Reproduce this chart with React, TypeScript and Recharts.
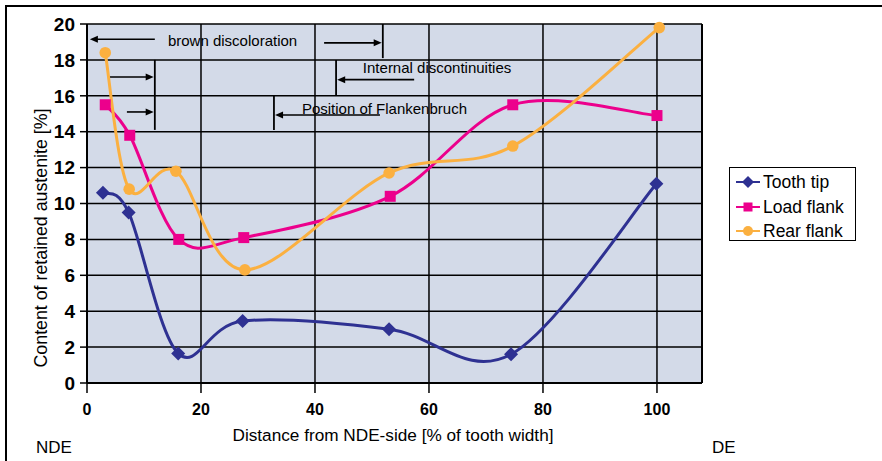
import React from 'react';
import { LineChart, Line, XAxis, YAxis, CartesianGrid, ReferenceLine, ReferenceDot } from 'recharts';

// ---- data ----
const toothTipX = [2.8, 7.3, 16.0, 27.3, 53.0, 74.4, 99.9];
const toothTipY = [10.6, 9.5, 1.65, 3.45, 3.0, 1.6, 11.1];
const loadFlankX = [3.2, 7.5, 16.1, 27.5, 53.2, 74.7, 100.0];
const loadFlankY = [15.5, 13.8, 8.0, 8.1, 10.4, 15.5, 14.9];
const rearFlankX = [3.2, 7.4, 15.6, 27.7, 53.0, 74.7, 100.4];
const rearFlankY = [18.4, 10.8, 11.8, 6.3, 11.7, 13.2, 19.8];

const xTicks = [0, 20, 40, 60, 80, 100];
const yTicks = [0, 2, 4, 6, 8, 10, 12, 14, 16, 18, 20];
const X_MAX = 107.9;

// annotation arrows (head at the second point) and bars, in data units
const arrowSegments = [
  { x1: 11.9, y1: 19.15, x2: 0.5, y2: 19.15 },
  { x1: 41.6, y1: 18.95, x2: 51.7, y2: 18.95 },
  { x1: 4.0, y1: 17.05, x2: 11.7, y2: 17.05 },
  { x1: 7.0, y1: 15.1, x2: 11.7, y2: 15.1 },
  { x1: 57.4, y1: 16.9, x2: 43.9, y2: 16.9 },
  { x1: 51.4, y1: 14.93, x2: 33.0, y2: 14.93 },
];
const barSegments = [
  { x: 51.9, y1: 20, y2: 18.1 },
  { x: 11.9, y1: 18.0, y2: 14.1 },
  { x: 43.7, y1: 18.0, y2: 16.05 },
  { x: 32.8, y1: 16.0, y2: 14.1 },
];
const annotationLabels = [
  { x: 14.2, y: 19.1, text: 'brown discoloration' },
  { x: 48.4, y: 17.55, text: 'Internal discontinuities' },
  { x: 37.7, y: 15.3, text: 'Position of Flankenbruch' },
];

const seriesNames = ['Tooth tip', 'Load flank', 'Rear flank'];
const NAVY = '#2E3192';
const MAGENTA = '#EC008C';
const ORANGE = '#FBB040';

const zip = (xs: number[], ys: number[]) => xs.map((x, i) => ({ x, y: ys[i] }));
const toothTip = zip(toothTipX, toothTipY);
const loadFlank = zip(loadFlankX, loadFlankY);
const rearFlank = zip(rearFlankX, rearFlankY);

// Excel-like smoothed curve (Catmull-Rom as cubic Bezier)
const smoothCurve: any = (context: any) => {
  let pts: number[][] = [];
  return {
    areaStart() {},
    areaEnd() {},
    lineStart() {
      pts = [];
    },
    point(x: number, y: number) {
      pts.push([+x, +y]);
    },
    lineEnd() {
      if (!pts.length) return;
      context.moveTo(pts[0][0], pts[0][1]);
      for (let i = 0; i < pts.length - 1; i++) {
        const p0 = pts[i - 1] || pts[i];
        const p1 = pts[i];
        const p2 = pts[i + 1];
        const p3 = pts[i + 2] || p2;
        const c1x = p1[0] + (p2[0] - p0[0]) / 6;
        const c1y = p1[1] + (p2[1] - p0[1]) / 6;
        const c2x = p2[0] - (p3[0] - p1[0]) / 6;
        const c2y = p2[1] - (p3[1] - p1[1]) / 6;
        context.bezierCurveTo(c1x, c1y, c2x, c2y, p2[0], p2[1]);
      }
    },
  };
};

const Diamond = ({ cx, cy, s = 7, color }: any) => (
  <polygon points={`${cx},${cy - s} ${cx + s},${cy} ${cx},${cy + s} ${cx - s},${cy}`} fill={color} />
);
const Square = ({ cx, cy, s = 5.5, color }: any) => (
  <rect x={cx - s} y={cy - s} width={2 * s} height={2 * s} fill={color} />
);
const Circle = ({ cx, cy, r = 5.8, color }: any) => <circle cx={cx} cy={cy} r={r} fill={color} />;

const ArrowShape = (p: any) => {
  const { x1, y1, x2, y2 } = p;
  const dir = x2 > x1 ? 1 : -1;
  const hl = 8;
  const hw = 3.5;
  return (
    <g>
      <line x1={x1} y1={y1} x2={x2 - dir * hl + dir} y2={y2} stroke="#000" strokeWidth={1.6} />
      <polygon points={`${x2},${y2} ${x2 - dir * hl},${y2 - hw} ${x2 - dir * hl},${y2 + hw}`} fill="#000" />
    </g>
  );
};

const BarShape = (p: any) => <line x1={p.x1} y1={p.y1} x2={p.x2} y2={p.y2} stroke="#000" strokeWidth={1.8} />;

const labelFont = 'Liberation Sans, Arial, Helvetica, sans-serif';

const LegendBox = () => {
  const items = [
    { name: seriesNames[0], color: NAVY, kind: 'diamond' },
    { name: seriesNames[1], color: MAGENTA, kind: 'square' },
    { name: seriesNames[2], color: ORANGE, kind: 'circle' },
  ];
  return (
    <div
      style={{
        position: 'absolute',
        left: 729,
        top: 167,
        width: 125,
        height: 72,
        border: '1.5px solid #000',
        background: '#fff',
        fontFamily: labelFont,
        fontSize: 17.5,
        color: '#000',
      }}
    >
      {items.map((it, i) => (
        <div key={it.name} style={{ position: 'absolute', left: 0, top: 2 + i * 24.5, height: 24, width: 125 }}>
          <svg width={32} height={24} style={{ position: 'absolute', left: 4, top: 0 }}>
            <line x1={2} y1={12} x2={26} y2={12} stroke={it.color} strokeWidth={2} />
            {it.kind === 'diamond' && <Diamond cx={14} cy={12} s={6} color={it.color} />}
            {it.kind === 'square' && <Square cx={14} cy={12} s={4.5} color={it.color} />}
            {it.kind === 'circle' && <Circle cx={14} cy={12} r={5} color={it.color} />}
          </svg>
          <span style={{ position: 'absolute', left: 33, top: 1, lineHeight: '22px', whiteSpace: 'nowrap' }}>{it.name}</span>
        </div>
      ))}
    </div>
  );
};

const XTitle = (props: any) => {
  const vb = props.viewBox || { x: 87, y: 383, width: 615 };
  return (
    <g fontFamily={labelFont} fill="#000">
      <text x={393} y={vb.y + 58} textAnchor="middle" fontSize={17.2}>
        Distance from NDE-side [% of tooth width]
      </text>
      <text x={36} y={vb.y + 70} fontSize={17}>
        NDE
      </text>
      <text x={712} y={vb.y + 70} fontSize={17}>
        DE
      </text>
    </g>
  );
};

const YTitle = () => (
  <text
    x={0}
    y={0}
    transform="translate(47,238) rotate(-90)"
    textAnchor="middle"
    fontFamily={labelFont}
    fontSize={17.8}
    fill="#000"
  >
    Content of retained austenite [%]
  </text>
);

export default function App() {
  return (
    <div style={{ position: 'absolute', left: 0, top: 0, width: 882, height: 461, background: '#fff', overflow: 'hidden' }}>
      <div
        style={{
          position: 'absolute',
          left: 5,
          top: 5,
          width: 900,
          height: 500,
          borderTop: '2px solid #000',
          borderLeft: '2px solid #000',
        }}
      />
      <LineChart
        width={882}
        height={461}
        margin={{ top: 24, right: 180, bottom: 0, left: 0 }}
        style={{ position: 'absolute', left: 0, top: 0 }}
      >
        <CartesianGrid stroke="#000" strokeWidth={1.5} fill="#D3DAE8" fillOpacity={1} />
        <XAxis
          type="number"
          dataKey="x"
          domain={[0, X_MAX]}
          ticks={xTicks}
          allowDataOverflow
          height={78}
          tickSize={10}
          tickMargin={11}
          axisLine={{ stroke: '#000', strokeWidth: 2 }}
          tickLine={{ stroke: '#000', strokeWidth: 1.5 }}
          tick={{ fill: '#000', fontSize: 16, fontWeight: 'bold', fontFamily: labelFont }}
          label={<XTitle />}
        />
        <YAxis
          type="number"
          dataKey="y"
          domain={[0, 20]}
          ticks={yTicks}
          width={87}
          tickSize={7}
          tickMargin={5}
          axisLine={{ stroke: '#000', strokeWidth: 2 }}
          tickLine={{ stroke: '#000', strokeWidth: 1.5 }}
          tick={{ fill: '#000', fontSize: 19, fontWeight: 'bold', fontFamily: labelFont }}
          label={<YTitle />}
        />
        <ReferenceLine x={X_MAX} stroke="#000" strokeWidth={2} />
        {barSegments.map((b, i) => (
          <ReferenceLine
            key={'b' + i}
            segment={[
              { x: b.x, y: b.y1 },
              { x: b.x, y: b.y2 },
            ]}
            shape={BarShape}
          />
        ))}
        {arrowSegments.map((a, i) => (
          <ReferenceLine
            key={'a' + i}
            segment={[
              { x: a.x1, y: a.y1 },
              { x: a.x2, y: a.y2 },
            ]}
            shape={ArrowShape}
          />
        ))}
        {annotationLabels.map((l, i) => (
          <ReferenceDot
            key={'l' + i}
            x={l.x}
            y={l.y}
            r={0}
            shape={(p: any) => (
              <text x={p.cx} y={p.cy} dy="0.36em" fontFamily={labelFont} fontSize={15} fill="#000">
                {l.text}
              </text>
            )}
          />
        ))}
        <Line
          data={toothTip}
          dataKey="y"
          name={seriesNames[0]}
          type={smoothCurve}
          stroke={NAVY}
          strokeWidth={3}
          isAnimationActive={false}
          dot={(p: any) => <Diamond key={'tt' + p.index} cx={p.cx} cy={p.cy} color={NAVY} />}
          activeDot={false}
        />
        <Line
          data={loadFlank}
          dataKey="y"
          name={seriesNames[1]}
          type={smoothCurve}
          stroke={MAGENTA}
          strokeWidth={3}
          isAnimationActive={false}
          dot={(p: any) => <Square key={'lf' + p.index} cx={p.cx} cy={p.cy} color={MAGENTA} />}
          activeDot={false}
        />
        <Line
          data={rearFlank}
          dataKey="y"
          name={seriesNames[2]}
          type={smoothCurve}
          stroke={ORANGE}
          strokeWidth={3}
          isAnimationActive={false}
          dot={(p: any) => <Circle key={'rf' + p.index} cx={p.cx} cy={p.cy} color={ORANGE} />}
          activeDot={false}
        />
      </LineChart>
      <LegendBox />
    </div>
  );
}
